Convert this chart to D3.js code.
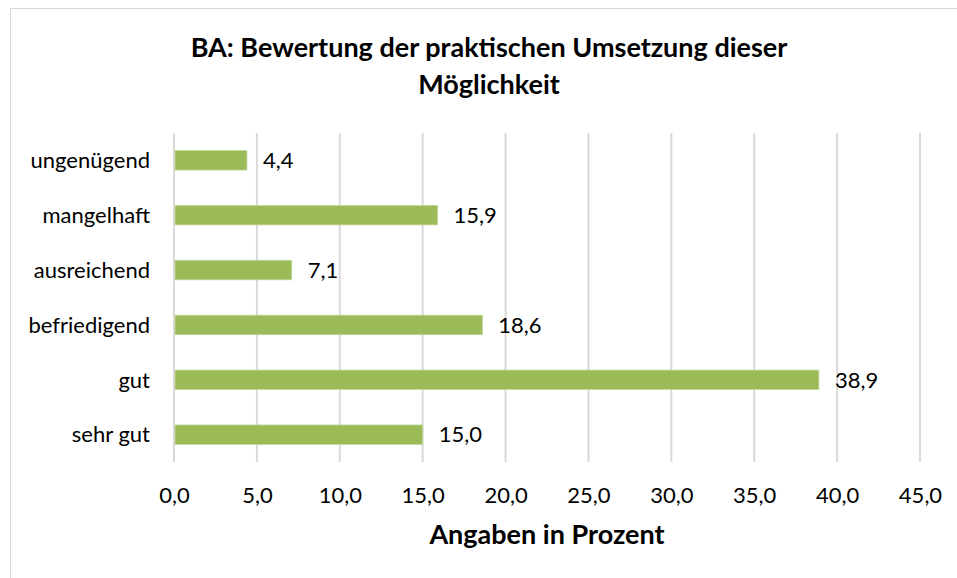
<!DOCTYPE html>
<html>
<head>
<meta charset="utf-8">
<script src="https://cdn.jsdelivr.net/npm/d3@7"></script>
<style>
  body { margin: 0; background: #fff; }
  svg text { font-family: Lato, "Open Sans", sans-serif; fill: #000; }
</style>
</head>
<body>
<div id="chart"></div>
<script>
// data
const categories = ['sehr gut', 'gut', 'befriedigend', 'ausreichend', 'mangelhaft', 'ungenügend'];
const values = [15.0, 38.9, 18.6, 7.1, 15.9, 4.4];
const xTicks = [0, 5, 10, 15, 20, 25, 30, 35, 40, 45];
const titleLines = ['BA: Bewertung der praktischen Umsetzung dieser', 'Möglichkeit'];
const axisTitle = 'Angaben in Prozent';

const width = 957;
const height = 578;
const fmt = v => d3.format('.1f')(v).replace('.', ',');

const svg = d3.select('#chart')
    .append('svg')
    .attr('width', width)
    .attr('height', height);

// chart frame (right and bottom sides run off the picture)
svg.append('rect')
    .attr('x', 10.5)
    .attr('y', 8.5)
    .attr('width', 1000)
    .attr('height', 1000)
    .style('fill', '#fff')
    .style('stroke', '#d9d9d9');

const plot = { left: 174, right: 920, top: 133, bottom: 462 };

const x = d3.scaleLinear()
    .domain([0, 45])
    .range([plot.left, plot.right]);

// top category first
const y = d3.scaleBand()
    .domain(categories.slice().reverse())
    .range([plot.top, plot.bottom])
    .paddingInner(0.645)
    .paddingOuter(0.32);

// gridlines
svg.append('g')
    .selectAll('line')
    .data(xTicks)
    .enter()
    .append('line')
    .attr('x1', d => x(d))
    .attr('x2', d => x(d))
    .attr('y1', plot.top)
    .attr('y2', plot.bottom)
    .style('stroke', '#d9d9d9')
    .style('stroke-width', 2);

// bars
svg.append('g')
    .selectAll('rect')
    .data(categories)
    .enter()
    .append('rect')
    .attr('x', x(0) + 1)
    .attr('y', d => y(d))
    .attr('width', (d, i) => x(values[i]) - x(0) - 1)
    .attr('height', y.bandwidth())
    .style('fill', '#9bbb59')
    .style('stroke', '#c3d69b')
    .style('stroke-width', 0.8);

// value labels
svg.append('g')
    .selectAll('text')
    .data(categories)
    .enter()
    .append('text')
    .attr('x', (d, i) => x(values[i]) + 16)
    .attr('y', d => y(d) + y.bandwidth() / 2)
    .attr('dy', '0.35em')
    .style('font-size', '22px')
    .text((d, i) => fmt(values[i]));

// category labels
svg.append('g')
    .selectAll('text')
    .data(categories)
    .enter()
    .append('text')
    .attr('x', 150)
    .attr('y', d => y(d) + y.bandwidth() / 2)
    .attr('dy', '0.35em')
    .attr('text-anchor', 'end')
    .style('font-size', '22px')
    .text(d => d);

// x axis labels
const xAxis = d3.axisBottom(x)
    .tickValues(xTicks)
    .tickFormat(fmt)
    .tickSize(0)
    .tickPadding(25);

const axisG = svg.append('g')
    .attr('transform', `translate(0,${plot.bottom})`)
    .call(xAxis);
axisG.select('.domain').remove();
axisG.selectAll('text')
    .style('font-family', 'Lato, "Open Sans", sans-serif')
    .style('font-size', '22px')
    .style('fill', '#000');

// axis title
svg.append('text')
    .attr('x', (plot.left + plot.right) / 2)
    .attr('y', 544)
    .attr('text-anchor', 'middle')
    .style('font-size', '27px')
    .style('font-weight', 'bold')
    .text(axisTitle);

// chart title
svg.append('g')
    .selectAll('text')
    .data(titleLines)
    .enter()
    .append('text')
    .attr('x', 489)
    .attr('y', (d, i) => 57 + i * 37)
    .attr('text-anchor', 'middle')
    .style('font-size', '27px')
    .style('font-weight', 'bold')
    .text(d => d);
</script>
</body>
</html>
